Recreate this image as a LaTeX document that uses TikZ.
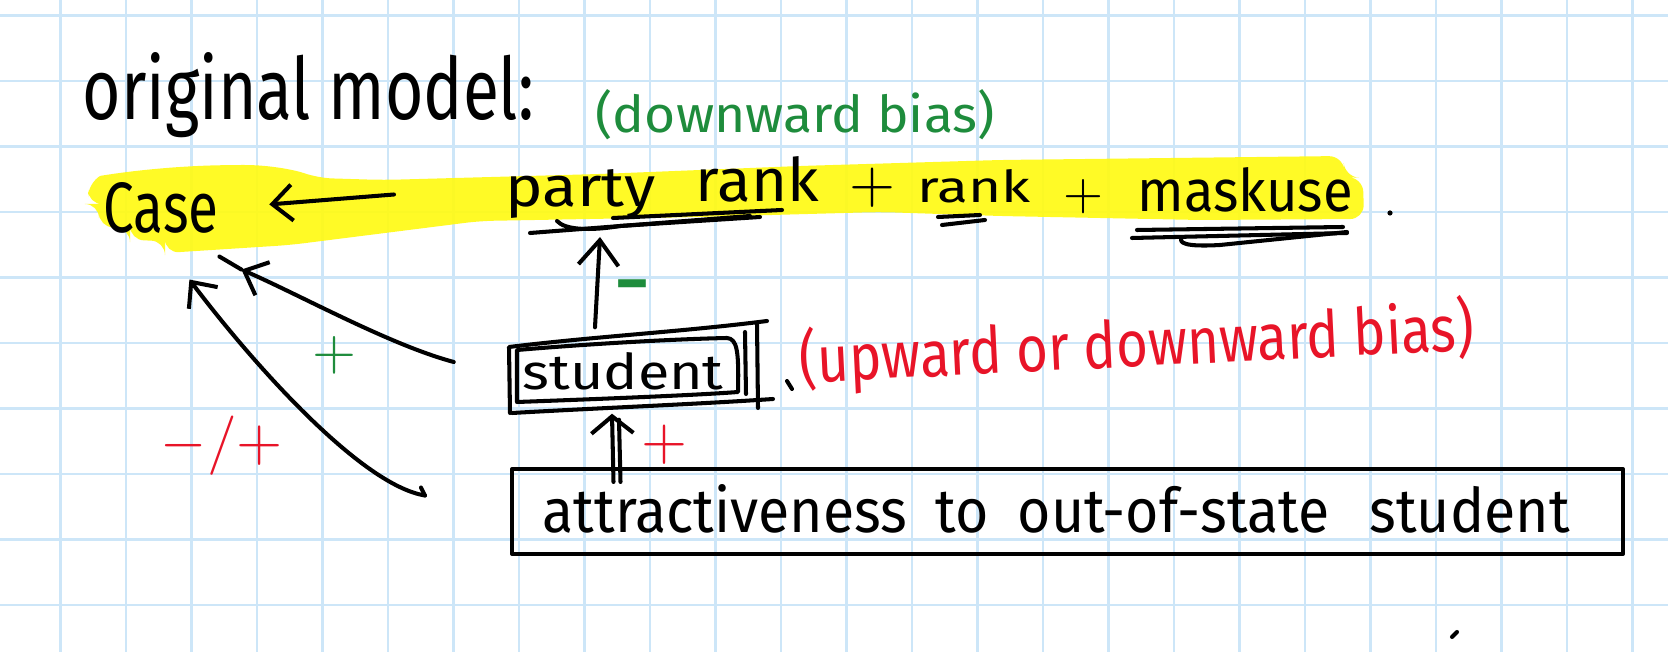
\documentclass[tikz,border=0pt]{standalone}
\usepackage{fontspec}
\setmainfont{Fira Sans}
\usepackage{graphicx}
\usetikzlibrary{arrows.meta,calc}
\newlength\hwu \setlength\hwu{0.01cm}
\newcommand\hwt[3]{\resizebox{#1\hwu}{#2\hwu}{#3}}
\definecolor{gridblue}{RGB}{205,230,248}
\definecolor{hlyellow}{RGB}{255,250,20}
\definecolor{hwgreen}{RGB}{30,140,60}
\definecolor{hwred}{RGB}{232,20,40}
\begin{document}
\begin{tikzpicture}[x=0.01cm,y=-0.01cm,
  ink/.style={line width=1.15pt, line cap=round, line join=round},
  arr/.style={ink, -{Straight Barb[length=0.2cm,width=0.36cm]}},
  txt/.style={inner sep=0, anchor=base west},
  gridline/.style={gridblue, line width=0.6pt}]
\useasboundingbox (0,0) rectangle (1668,652);
\fill[white] (0,0) rectangle (1668,652);
% grid paper
\foreach \i in {0,...,24} \draw[gridline] ({60.5+65.5*\i},0) -- ({60.5+65.5*\i},652);
\foreach \j in {0,...,9} \draw[gridline] (0,{15.5+65.5*\j}) -- (1668,{15.5+65.5*\j});
% highlighter
\fill[hlyellow, fill opacity=0.92, rounded corners=4]
  (88,183) .. controls (100,176) and (150,167) .. (230,165)
  .. controls (270,165) and (295,170) .. (318,178)
  -- (383,180) -- (600,174) -- (800,166) -- (1000,160) -- (1343,156)
  -- (1345,177) -- (1363,178) -- (1364,219) -- (1200,220) -- (1000,216)
  -- (880,212) -- (700,217) -- (480,221) -- (290,245) -- (165,253)
  -- (165,241) -- (130,240) -- (130,228) -- (99,227) -- (99,204) -- (88,204) -- cycle;

% texts
\node[txt] (title) at (82,120) {\hwt{452}{67}{original model:}};
\node[txt, text=hwgreen] (bias1) at (595,133) {\hwt{399}{43}{(downward bias)}};
\node[txt] (case) at (103,233) {\hwt{115}{50}{Case}};
\node[txt] (party) at (505,207) {\hwt{150}{37}{party}};
\node[txt] (rank1) at (695,202) {\hwt{123}{45}{rank}};
\node[inner sep=0] (plus1) at (872,188) {\resizebox{46\hwu}{!}{$+$}};
\node[txt] (rank2) at (917,203) {\hwt{113}{33}{rank}};
\node[inner sep=0] (plus2) at (1083,197) {\resizebox{40\hwu}{!}{$+$}};
\node[txt] (mask) at (1137,212) {\hwt{215}{44}{maskuse}};
\node[txt] (student) at (522,390) {\hwt{201}{37}{student}};
\node[txt] (attrtxt) at (542,533) {\hwt{1027}{48}{attractiveness\hspace{0.5em}to\hspace{0.5em}out-of-state\hspace{0.7em}student}};
\node[txt, text=hwred, rotate=2.8] (bias2) at (800,383) {\hwt{675}{55}{(upward or downward bias)}};

% sign labels
\node[text=hwgreen, inner sep=0] (lplus) at (334,355) {\resizebox{44\hwu}{!}{$+$}};
\node[text=hwred, inner sep=0] (lpm) at (222,446) {\resizebox{122\hwu}{!}{$-/+$}};
\node[text=hwgreen, inner sep=0] (lminus) at (632,293) {\resizebox{34\hwu}{!}{\bfseries −}};
\node[text=hwred, inner sep=0] (lplus2) at (664,445) {\resizebox{46\hwu}{!}{$+$}};

% boxes
\node[inner sep=0, minimum width=263\hwu, minimum height=70\hwu] (stubox) at (639,378) {};
\node[ink, draw, inner sep=0, minimum width=1111\hwu, minimum height=85\hwu] (attr) at (1067.5,511.5) {};
\draw[ink] (510,413) -- (509,347) .. controls (600,336) and (680,332) .. (767,321);
\draw[ink] (512,413) .. controls (600,408) and (700,404) .. (773,399);
\draw[ink] (517,402) -- (517,350) .. controls (600,343) and (680,339) .. (727,338)
  .. controls (737,339) and (739,350) .. (738,392) .. controls (700,395) and (600,399) .. (517,402);
\draw[ink] (745,332) -- (746,394);
\draw[ink] (757,323) -- (758,408);

% underlines and marks
\draw[ink] (530,233) -- (750,216);
\draw[ink] (557,221) .. controls (565,230) and (590,231) .. (620,226) -- (760,217);
\draw[ink] (613,218) -- (782,210);
\draw[ink] (938,217) -- (980,215);
\draw[ink] (942,225) -- (985,220);
\draw[ink] (1132,238) -- (1347,233);
\draw[ink] (1137,230) -- (1343,227);
\draw[ink] (1182,237) .. controls (1178,243) and (1185,247) .. (1220,245) -- (1347,232);
\fill (1390,213) circle (2.6);
\draw[ink] (787,381) -- (792,389);
\draw[ink] (1452,637) -- (1457,632);

% connectors
\coordinate (partytip) at (600,237);
\draw[ink, -{Straight Barb[length=0.25cm,width=0.4cm]}] ([xshift=-44\hwu,yshift=15\hwu]stubox.north) -- (partytip);
\draw[ink, -{Straight Barb[length=0.17cm,width=0.42cm]}] ([xshift=-454\hwu,yshift=-15\hwu]attr.north) -- ([xshift=-27\hwu]stubox.south);
\draw[ink] ([xshift=-447\hwu,yshift=-15\hwu]attr.north) -- ([xshift=-20\hwu,yshift=-6\hwu]stubox.south);
\draw[arr, shorten >=0.5cm] ([xshift=-111\hwu]party.west) -- (case.east);
\coordinate (c1tip) at ([xshift=22\hwu,yshift=-35\hwu]case.south east);
\draw[arr] ([xshift=-53\hwu,yshift=16\hwu]stubox.west) .. controls (390,345) and (300,295) .. (c1tip);
\draw[ink] (c1tip) -- ++(-22,-13);
\coordinate (c2tip) at ([xshift=-30\hwu,yshift=-45\hwu]case.south east);
\draw[arr] ([xshift=-85\hwu,yshift=16\hwu]attr.west) .. controls (360,485) and (250,360) .. (c2tip);
\draw[ink] ([xshift=-85\hwu,yshift=16\hwu]attr.west) -- ++(-4,-8);
\end{tikzpicture}
\end{document}
